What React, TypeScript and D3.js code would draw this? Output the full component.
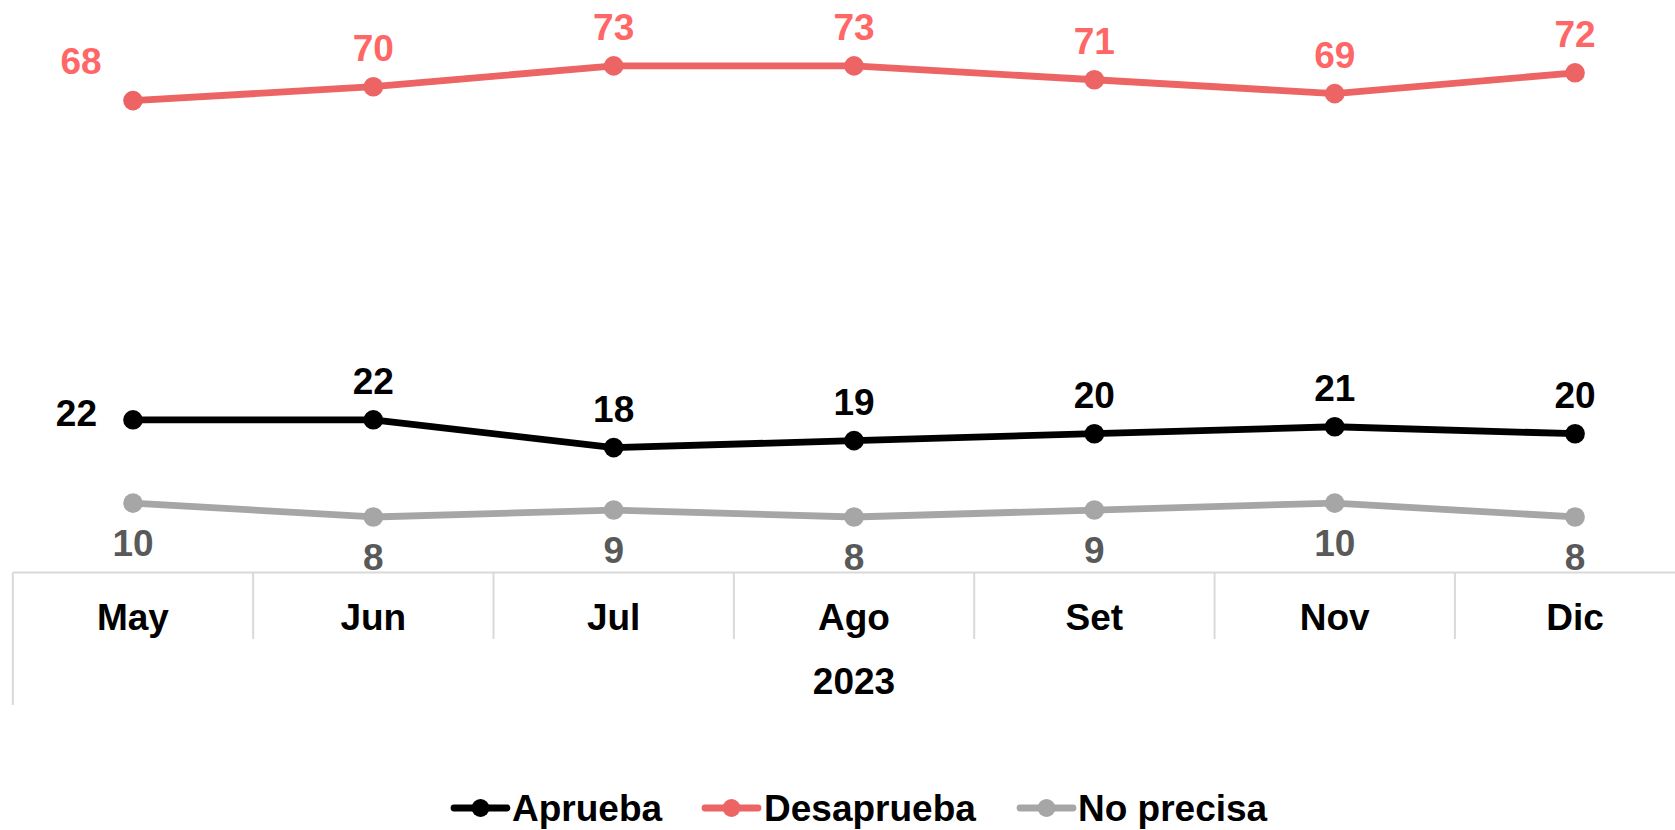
import React from "react";
import * as d3 from "d3";

const categories = ["May", "Jun", "Jul", "Ago", "Set", "Nov", "Dic"];
const yearLabel = "2023";
const aprueba = [22, 22, 18, 19, 20, 21, 20];
const desaprueba = [68, 70, 73, 73, 71, 69, 72];
const noPrecisa = [10, 8, 9, 8, 9, 10, 8];

const W = 1675;
const H = 830;
const FONT = "'Liberation Sans', Arial, sans-serif";
const FS = 37;

type Series = {
  name: string;
  values: number[];
  line: string;
  label: string;
  pos: "above" | "below";
};

const series: Series[] = [
  { name: "Aprueba", values: aprueba, line: "#000000", label: "#000000", pos: "above" },
  { name: "Desaprueba", values: desaprueba, line: "#EC6464", label: "#FF6666", pos: "above" },
  { name: "No precisa", values: noPrecisa, line: "#A6A6A6", label: "#595959", pos: "below" },
];

export default function App() {
  const x = d3.scaleBand<string>().domain(categories).range([12.8, 12.8 + 7 * 240.35]).padding(0);
  const y = d3.scaleLinear().domain([0, 80]).range([572.5, 17.3]);
  const cx = (c: string) => (x(c) as number) + x.bandwidth() / 2;
  const line = d3
    .line<number>()
    .x((_, i) => cx(categories[i]))
    .y((v) => y(v));

  const axisY = y(0);
  const left = x.range()[0];

  const legendItems = [
    { s: series[0], mx: 454, tx: 512 },
    { s: series[1], mx: 705, tx: 764 },
    { s: series[2], mx: 1020, tx: 1078 },
  ];
  const legendY = 808;

  return (
    <svg
      width={W}
      height={H}
      style={{ position: "absolute", left: 0, top: 0, background: "#fff" }}
      fontFamily={FONT}
    >
      {/* axis */}
      <line x1={left} x2={W} y1={axisY} y2={axisY} stroke="#D9D9D9" strokeWidth={2} />
      <line x1={left} x2={left} y1={axisY} y2={705} stroke="#D9D9D9" strokeWidth={2} />
      {categories.slice(1).map((c) => (
        <line
          key={"d" + c}
          x1={x(c) as number}
          x2={x(c) as number}
          y1={axisY}
          y2={639}
          stroke="#D9D9D9"
          strokeWidth={2}
        />
      ))}
      {categories.map((c) => (
        <text
          key={"c" + c}
          x={cx(c)}
          y={617}
          dy="0.35em"
          textAnchor="middle"
          fontSize={FS}
          fontWeight="bold"
          fill="#000"
        >
          {c}
        </text>
      ))}
      <text
        x={(x.range()[0] + x.range()[1]) / 2}
        y={681}
        dy="0.35em"
        textAnchor="middle"
        fontSize={FS}
        fontWeight="bold"
        fill="#000"
      >
        {yearLabel}
      </text>

      {/* series */}
      {series.map((s) => (
        <g key={s.name}>
          <path d={line(s.values) || ""} fill="none" stroke={s.line} strokeWidth={6.8} strokeLinejoin="round" />
          {s.values.map((v, i) => (
            <circle key={i} cx={cx(categories[i])} cy={y(v)} r={9.8} fill={s.line} />
          ))}
          {s.values.map((v, i) => {
            let lx = cx(categories[i]);
            let ly = s.pos === "above" ? y(v) - 38.5 : y(v) + 40;
            let anchor: "middle" | "end" = "middle";
            if (i === 0 && s.name === "Aprueba") {
              lx = lx - 36;
              ly = y(v) - 7;
              anchor = "end";
            } else if (i === 0 && s.name === "Desaprueba") {
              lx = lx - 52;
              ly = y(v) - 40;
            }
            return (
              <text
                key={"l" + i}
                x={lx}
                y={ly}
                dy="0.35em"
                textAnchor={anchor}
                fontSize={FS}
                fontWeight="bold"
                fill={s.label}
              >
                {v}
              </text>
            );
          })}
        </g>
      ))}

      {/* legend */}
      {legendItems.map(({ s, mx, tx }) => (
        <g key={"lg" + s.name}>
          <line x1={mx} x2={mx + 53} y1={legendY} y2={legendY} stroke={s.line} strokeWidth={6.8} strokeLinecap="round" />
          <circle cx={mx + 26.5} cy={legendY} r={9} fill={s.line} />
          <text x={tx} y={legendY} dy="0.35em" fontSize={FS} fontWeight="bold" fill="#000">
            {s.name}
          </text>
        </g>
      ))}
    </svg>
  );
}
